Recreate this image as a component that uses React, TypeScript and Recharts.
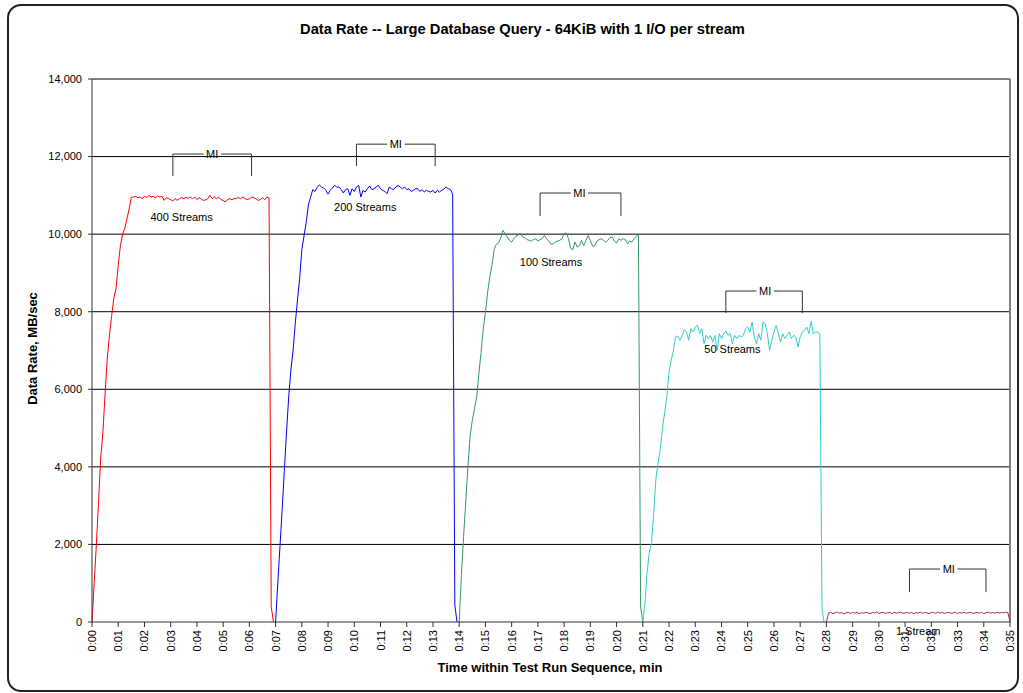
import { LineChart, Line, XAxis, YAxis, ReferenceLine, ReferenceDot } from "recharts";

const FONT = '"Liberation Sans", Arial, sans-serif';
const STEP_SEC = 5;

const MINUTE_LABELS = [
  "0:00", "0:01", "0:02", "0:03", "0:04", "0:05", "0:06", "0:07", "0:08", "0:09",
  "0:10", "0:11", "0:12", "0:13", "0:14", "0:15", "0:16", "0:17", "0:18", "0:19",
  "0:20", "0:21", "0:22", "0:23", "0:24", "0:25", "0:26", "0:27", "0:28", "0:29",
  "0:30", "0:31", "0:32", "0:33", "0:34", "0:35",
];
const Y_TICKS = [0, 2000, 4000, 6000, 8000, 10000, 12000, 14000];
const GRID_VALUES = [2000, 4000, 6000, 8000, 10000, 12000];

// MB/sec, one sample every 5 seconds
const RATE_400 = [
  0, 1000, 2000, 3100, 4250, 4900, 5900, 6800, 7400, 7900, 8350, 8600, 9200, 9700, 10000, 10150, 10400, 10650, 10950,
  10957, 10975, 10940, 10957, 10915, 10975, 10940, 11000, 10957, 10975,
  10940, 10985, 10957, 10975, 10871, 10940, 10915, 10889, 10854, 10915,
  10871, 10915, 10940, 10915, 10957, 10915, 10957, 10915, 10957, 10889,
  10940, 10905, 10871, 10880, 10915, 11000, 10915, 10957, 10915, 10957,
  10889, 10871, 10828, 10889, 10915, 10889, 10915, 10920, 10940, 10915,
  10957, 10915, 10889, 10915, 10957, 10940, 10915, 10871, 10889, 10940,
  10889, 10957, 10930,
  400, 0,
];
const RATE_200 = [
  0, 1000, 1950, 2900, 3900, 4900, 5800, 6500, 7000, 7700, 8300, 8850, 9600, 9950, 10300, 10750, 10950, 11150, 11100, 11200, 11270,
  11214, 11190, 11129, 11030, 11129, 11190, 11258, 11214, 11214, 11150,
  11060, 11150, 11172, 11000, 11172, 11100, 11214, 11258, 10957, 11129,
  11085, 11172, 11240, 11150, 11172, 11214, 11258, 11172, 11129, 11100,
  11044, 11214, 11172, 11150, 11214, 11258, 11214, 11172, 11214, 11150,
  11172, 11100, 11129, 11172, 11172, 11100, 11150, 11085, 11129, 11100,
  11085, 11129, 11060, 11129, 11085, 11129, 11160, 11214, 11172, 11150,
  11030,
  440, 0,
];
const RATE_100 = [
  0, 1200, 2200, 3100, 4000, 4800, 5200, 5500, 5800, 6400, 6950, 7550, 7980, 8500, 8900, 9200, 9600, 9740, 9780, 9900, 10100,
  10010, 9926, 9840, 9797, 9883, 9950, 9969, 10029, 9926, 9910,
  9860, 9840, 9820, 9860, 9883, 9820, 9860, 9883, 9969, 9883,
  9820, 9737, 9750, 9797, 9820, 9840, 9883, 10010, 10029, 9883,
  9630, 9600, 9797, 9668, 9700, 9840, 9700, 9840, 9969, 9840,
  9690, 9700, 9820, 9860, 9883, 9840, 9797, 9840, 9910, 9926,
  9820, 9770, 9883, 9840, 9883, 9860, 9750, 9820, 9797, 9883,
  9950, 9969,
  390, 0,
];
const RATE_50 = [
  0, 500, 1300, 1800, 2050, 2800, 3700, 4100, 4450, 5000, 5400, 5800, 6450, 6750, 7000, 7350,
  7365, 7262, 7391, 7538, 7476, 7262, 7563, 7476, 7605, 7649,
  7435, 7563, 7177, 7391, 7306, 7391, 7218, 7391, 7004, 7435,
  7306, 7435, 7500, 7391, 7435, 7177, 7391, 7306, 7391, 7347,
  7391, 7563, 7605, 7476, 7734, 7347, 7177, 7435, 7262, 7734,
  7690, 7435, 7004, 7262, 7476, 7649, 7435, 7218, 7435, 7306,
  7391, 7476, 7306, 7391, 7347, 7090, 7347, 7476, 7520, 7605,
  7435, 7760, 7435, 7476, 7476, 7430,
  300, 0,
];
const RATE_1 = [
  0,
  230, 250, 215, 240, 255, 225, 245, 210, 235, 250,
  220, 245, 230, 255, 215, 240, 225, 250, 235, 210,
  245, 230, 255, 220, 240, 250, 225, 235, 245, 215,
  250, 230, 240, 255, 220, 235, 245, 225, 250, 215,
  240, 230, 255, 225, 245, 235, 215, 250, 240, 225,
  255, 230, 245, 220, 240, 250, 225, 235, 255, 215,
  245, 230, 250, 225, 240, 255, 220, 235, 245, 230,
  250, 215, 240, 255, 230, 245, 225, 250, 235, 245,
  240, 250, 245,
  0,
];

const SERIES = [
  { key: "s400", startMin: 0, values: RATE_400, color: "#FF0000" },
  { key: "s200", startMin: 7, values: RATE_200, color: "#0000FF" },
  { key: "s100", startMin: 14, values: RATE_100, color: "#339966" },
  { key: "s50", startMin: 21, values: RATE_50, color: "#33CCCC" },
  { key: "s1", startMin: 28, values: RATE_1, color: "#993366" },
];

// stream count labels (time in seconds, rate)
const STREAM_LABELS = ["400 Streams", "200 Streams", "100 Streams", "50 Streams", "1 Stream"];
const STREAM_LABEL_T = [205, 625, 1050, 1465, 1890];
const STREAM_LABEL_Y = [10450, 10700, 9288, 7048, -240];

// measurement interval brackets
const MI_LEFT = [185, 605, 1025, 1450, 1870];
const MI_RIGHT = [365, 785, 1210, 1625, 2045];
const MI_MID = [275, 695, 1115, 1540, 1960];
const MI_TOP = [12065, 12320, 11060, 8533, 1366];
const MI_BOTTOM = [11500, 11755, 10467, 7966, 773];
const MI_GAP = 20;

const SAMPLES = MINUTE_LABELS.length * 12 - 11;
const rows: Record<string, number>[] = Array.from({ length: SAMPLES }, (_, i) => ({ t: i * STEP_SEC }));
SERIES.forEach((s) => {
  const start = s.startMin * 12;
  s.values.forEach((v, j) => {
    if (rows[start + j]) rows[start + j][s.key] = v;
  });
});

const fmtNum = (v: number) => v.toLocaleString("en-US");

function MinuteTick({ x, y, payload }: any) {
  const label = MINUTE_LABELS[Math.round(payload.value / 60)] ?? "";
  return (
    <text
      transform={`translate(${x + 4},${y + 1}) rotate(-90)`}
      textAnchor="end"
      fontSize={11}
      fill="#000"
      fontFamily={FONT}
    >
      {label}
    </text>
  );
}

export default function App() {
  return (
    <div style={{ position: "absolute", left: 0, top: 0, width: 1023, height: 693, background: "#fff", fontFamily: FONT }}>
      <div
        style={{
          position: "absolute",
          left: 7,
          top: 4,
          width: 1012,
          height: 688,
          boxSizing: "border-box",
          border: "2px solid #222",
          borderRadius: 14,
        }}
      />
      <div style={{ position: "absolute", left: 0, width: 1045, top: 21, textAlign: "center", fontSize: 14.7, fontWeight: "bold", whiteSpace: "nowrap" }}>
        Data Rate -- Large Database Query - 64KiB with 1 I/O per stream
      </div>
      <div style={{ position: "absolute", left: 400, width: 300, top: 660, textAlign: "center", fontSize: 13, fontWeight: "bold", whiteSpace: "nowrap" }}>
        Time within Test Run Sequence, min
      </div>
      <div
        style={{
          position: "absolute",
          left: 32 - 100,
          top: 349 - 8,
          width: 200,
          textAlign: "center",
          fontSize: 13,
          fontWeight: "bold",
          whiteSpace: "nowrap",
          transform: "rotate(-90deg)",
        }}
      >
        Data Rate, MB/sec
      </div>
      <div style={{ position: "absolute", left: 0, top: 0 }}>
        <LineChart width={1023} height={693} data={rows} margin={{ top: 79, right: 13, bottom: 0, left: 0 }}>
          {GRID_VALUES.map((v) => (
            <ReferenceLine key={v} y={v} stroke="#000" strokeWidth={1} />
          ))}
          <ReferenceLine y={14000} stroke="#808080" strokeWidth={2} />
          <ReferenceLine x={(SAMPLES - 1) * STEP_SEC} stroke="#808080" strokeWidth={2} />
          <XAxis
            dataKey="t"
            type="category"
            interval={11}
            height={71}
            tick={<MinuteTick />}
            tickSize={5}
            axisLine={{ stroke: "#333" }}
            tickLine={{ stroke: "#333" }}
          />
          <YAxis
            domain={[0, 14000]}
            ticks={Y_TICKS}
            width={92}
            tickFormatter={fmtNum}
            tick={{ fontSize: 11, fill: "#000" }}
            tickSize={4}
            tickMargin={6}
            axisLine={{ stroke: "#333" }}
            tickLine={{ stroke: "#333" }}
          />
          {SERIES.map((s) => (
            <Line
              key={s.key}
              dataKey={s.key}
              type="linear"
              stroke={s.color}
              strokeWidth={1}
              dot={false}
              connectNulls={false}
              isAnimationActive={false}
            />
          ))}
          {MI_LEFT.map((l, i) => (
            <ReferenceLine key={`ml${i}`} segment={[{ x: l, y: MI_BOTTOM[i] }, { x: l, y: MI_TOP[i] }]} stroke="#333" ifOverflow="visible" />
          ))}
          {MI_RIGHT.map((r, i) => (
            <ReferenceLine key={`mr${i}`} segment={[{ x: r, y: MI_BOTTOM[i] }, { x: r, y: MI_TOP[i] }]} stroke="#333" ifOverflow="visible" />
          ))}
          {MI_LEFT.map((l, i) => (
            <ReferenceLine key={`mtl${i}`} segment={[{ x: l, y: MI_TOP[i] }, { x: MI_MID[i] - MI_GAP, y: MI_TOP[i] }]} stroke="#333" ifOverflow="visible" />
          ))}
          {MI_RIGHT.map((r, i) => (
            <ReferenceLine key={`mtr${i}`} segment={[{ x: MI_MID[i] + MI_GAP, y: MI_TOP[i] }, { x: r, y: MI_TOP[i] }]} stroke="#333" ifOverflow="visible" />
          ))}
          {MI_MID.map((m, i) => (
            <ReferenceDot
              key={`mi${i}`}
              x={m}
              y={MI_TOP[i]}
              r={0}
              fill="none"
              stroke="none"
              ifOverflow="visible"
              label={{ value: "MI", position: "center", fontSize: 11, fill: "#000" }}
            />
          ))}
          {STREAM_LABELS.map((txt, i) => (
            <ReferenceDot
              key={txt}
              x={STREAM_LABEL_T[i]}
              y={STREAM_LABEL_Y[i]}
              r={0}
              fill="none"
              stroke="none"
              ifOverflow="visible"
              label={{ value: txt, position: "center", fontSize: 11, fill: "#000" }}
            />
          ))}
        </LineChart>
      </div>
    </div>
  );
}
